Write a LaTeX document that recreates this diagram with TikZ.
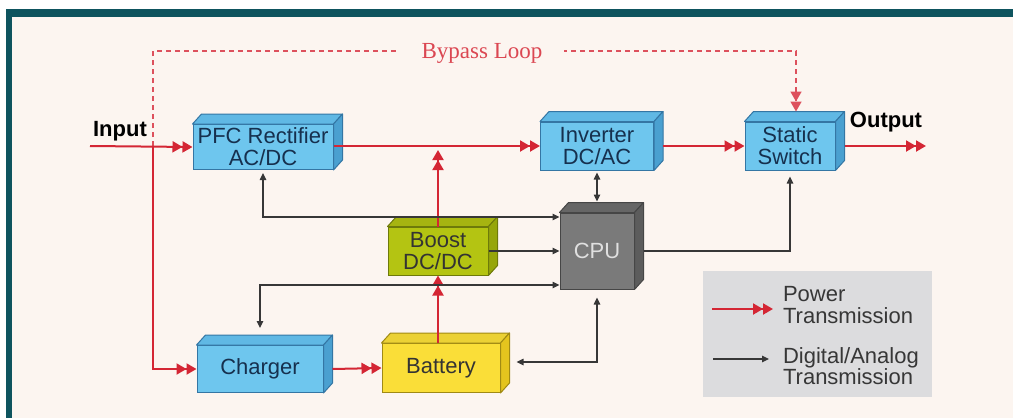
\documentclass[tikz,border=0pt]{standalone}
\usepackage{fontspec}
\setmainfont{Liberation Sans}
\newfontfamily\loopfont{Liberation Serif}
\usetikzlibrary{arrows.meta}
\definecolor{bg}{RGB}{252,245,240}
\definecolor{frame}{RGB}{14,84,94}
\definecolor{pred}{RGB}{212,38,52}
\definecolor{sgray}{RGB}{55,55,55}
\definecolor{bluef}{RGB}{110,198,238}
\definecolor{bluet}{RGB}{96,184,228}
\definecolor{blues}{RGB}{74,160,208}
\definecolor{blueo}{RGB}{52,118,164}
\definecolor{bluetext}{RGB}{22,48,78}
\definecolor{olivef}{RGB}{180,196,18}
\definecolor{olives}{RGB}{150,166,10}
\definecolor{oliveo}{RGB}{110,122,10}
\definecolor{yellf}{RGB}{250,222,56}
\definecolor{yells}{RGB}{228,196,30}
\definecolor{yello}{RGB}{160,138,20}
\definecolor{cpuf}{RGB}{122,122,122}
\definecolor{cput}{RGB}{102,102,102}
\definecolor{cpus}{RGB}{92,92,92}
\definecolor{cpuo}{RGB}{70,70,70}
\definecolor{legfill}{RGB}{220,220,222}
\definecolor{legtext}{RGB}{55,55,55}
\newcommand{\cubedx}{9}
\newcommand{\cubedy}{-10}
\newcommand{\boxfont}{\fontsize{11}{11}\selectfont}
\newcommand{\cubefaces}[4]{%
  \filldraw[fill=#2,draw=#4,line width=0.5pt,line join=round]
    (#1.north west) -- ++(\cubedx,\cubedy)
    -- ([shift={(\cubedx,\cubedy)}]#1.north east) -- (#1.north east) -- cycle;
  \filldraw[fill=#3,draw=#4,line width=0.5pt,line join=round]
    (#1.north east) -- ++(\cubedx,\cubedy)
    -- ([shift={(\cubedx,\cubedy)}]#1.south east) -- (#1.south east) -- cycle;}

\begin{document}
\begin{tikzpicture}[x=0.5pt,y=-0.5pt,
    unit/.style={draw=blueo,fill=bluef,line width=0.5pt,text=bluetext,
                 align=center,font=\boxfont,inner sep=0pt},
    boostbox/.style={unit,draw=oliveo,fill=olivef,text=black!80},
    battbox/.style={unit,draw=yello,fill=yellf,text=black!80},
    cpubox/.style={unit,draw=cpuo,fill=cpuf,text=white!88!black},
    pow/.style={draw=pred,line width=1pt,
                -{Triangle[length=5pt,width=5.5pt]Triangle[length=5pt,width=5.5pt]}},
    sig/.style={draw=sgray,line width=0.6pt,>={Triangle[length=3.5pt,width=3.2pt]}},
    bypassline/.style={pow,draw=pred!80,line width=0.8pt,dash pattern=on 2.5pt off 2pt}]
  \fill[white] (0,0) rectangle (1013,418);
  \fill[frame] (6,9) rectangle (1013,418);
  \fill[bg] (12,17) rectangle (1013,418);
  \useasboundingbox (0,0) rectangle (1013,418);

  \node[unit,minimum width=70pt,minimum height=22.5pt] (pfc) at (263,147) {PFC Rectifier\\AC/DC};
  \node[unit,minimum width=56.5pt,minimum height=24pt] (inv) at (597,146) {Inverter\\DC/AC};
  \node[unit,minimum width=45pt,minimum height=24pt] (stsw) at (790,146) {Static\\Switch};
  \node[cpubox,minimum width=37pt,minimum height=38pt] (cpu) at (597,251) {CPU};
  \node[boostbox,minimum width=50pt,minimum height=24pt] (boost) at (438,251) {Boost\\DC/DC};
  \node[unit,minimum width=63pt,minimum height=23.5pt] (chg) at (260,369) {Charger};
  \node[battbox,minimum width=59pt,minimum height=24.5pt] (batt) at (441,368) {Battery};
  \cubefaces{pfc}{bluet}{blues}{blueo}
  \cubefaces{inv}{bluet}{blues}{blueo}
  \cubefaces{stsw}{bluet}{blues}{blueo}
  \cubefaces{cpu}{cput}{cpus}{cpuo}
  \cubefaces{boost}{olivef!92!black}{olives}{oliveo}
  \cubefaces{chg}{bluet}{blues}{blueo}
  \cubefaces{batt}{yellf!94!black}{yells}{yello}

  \node[font=\bfseries\boxfont] (inlbl) at (120,131) {Input};
  \node[font=\bfseries\boxfont] (outlbl) at (886,122) {Output};
  \coordinate (in) at (90,146);
  \coordinate (split) at (153,146);
  \coordinate (bptop) at (153,51);
  \coordinate (out) at (926,146);

  \draw[bypassline] (split) -- (bptop) -| ([xshift=3pt,yshift=5pt]stsw.north);
  \node[fill=bg,font=\loopfont\fontsize{11.5}{12}\selectfont,text=pred!85,
        inner xsep=11pt,inner ysep=1pt] (bplbl) at (482,53) {Bypass Loop};

  \draw[pow] (in) -- (pfc.west);
  \draw[pow] (split) |- (chg.west);
  \draw[pow] (pfc.east |- inv.west) -- (inv.west);
  \draw[pow,shorten >=2pt] (boost.north) -- (boost.north |- inv.west);
  \draw[pow] (boost.south |- batt.north) -- (boost.south);
  \draw[pow] ([xshift=4.5pt]chg.east) -- (batt.west);
  \draw[pow] ([xshift=4.5pt]inv.east) -- (stsw.west);
  \draw[pow] ([xshift=4.5pt]stsw.east) -- (out);

  \draw[sig,<->,shorten <=1.5pt] (pfc.south) |- ([yshift=17pt]cpu.west);
  \draw[sig,->] (boost.east) -- (cpu.west);
  \draw[sig,<->] ([yshift=8.5pt]chg.north) |- ([yshift=-17pt]cpu.west);
  \draw[sig,<->,shorten <=1pt] (inv.south) -- ([yshift=5.5pt]cpu.north);
  \draw[sig,->,shorten >=3pt] ([xshift=4.5pt]cpu.east) -| (stsw.south);
  \draw[sig,<->,shorten <=4pt] (cpu.south) |- ([xshift=8pt,yshift=3pt]batt.east);

  \node[fill=legfill,minimum width=114.5pt,minimum height=63pt,inner sep=0pt] (leg) at (817.5,334) {};
  \coordinate (lp1) at (712,309);
  \coordinate (lp2) at (773,309);
  \draw[pow] (lp1) -- (lp2);
  \node[anchor=west,align=left,font=\fontsize{11}{11}\selectfont,text=legtext] (lptext) at (776,305) {Power\\Transmission};
  \coordinate (ls1) at (713,359);
  \coordinate (ls2) at (769,359);
  \draw[sig,->] (ls1) -- (ls2);
  \node[anchor=west,align=left,font=\fontsize{11}{10.5}\selectfont,text=legtext] (lstext) at (776,366) {Digital/Analog\\Transmission};
\end{tikzpicture}
\end{document}
